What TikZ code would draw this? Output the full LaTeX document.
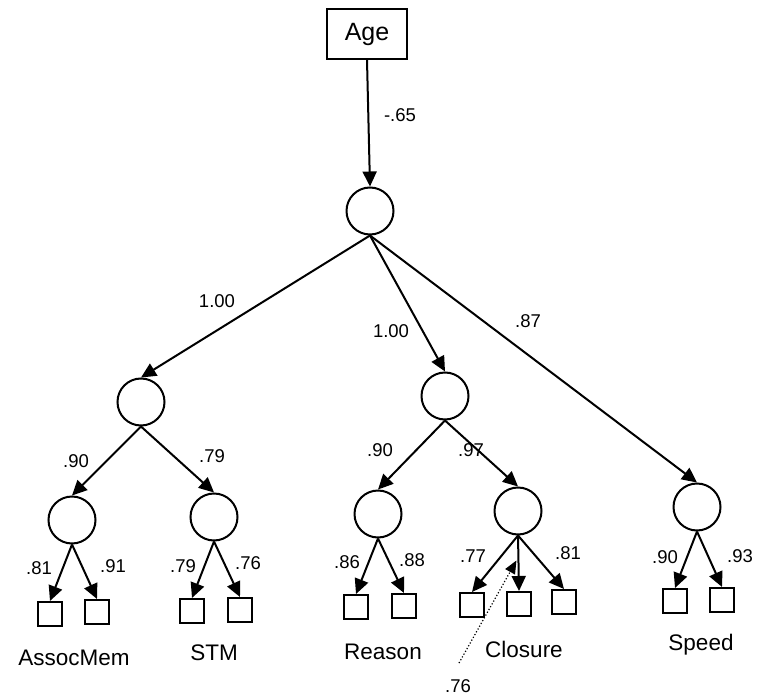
\documentclass[tikz,border=0pt]{standalone}
\usepackage{fontspec}
\setmainfont{Liberation Sans}
\usetikzlibrary{arrows.meta,calc}
\begin{document}
\begin{tikzpicture}[x=1pt,y=-1pt,
  lat/.style={circle,draw,line width=2pt,minimum size=47pt,inner sep=0pt},
  obs/.style={rectangle,draw,line width=2pt,minimum size=24pt,inner sep=0pt},
  path/.style={line width=2pt,-{Triangle[length=15pt,width=14pt]}},
  coef/.style={font=\fontsize{18.5}{20}\selectfont,inner sep=0pt},
  grp/.style={font=\fontsize{22.5}{25}\selectfont,inner sep=0pt}]
\useasboundingbox (0,0) rectangle (765,695);

% exogenous variable
\node[draw,line width=2pt,minimum width=80pt,minimum height=50pt,inner sep=0pt,
      font=\fontsize{25}{28}\selectfont] (age) at (367,34) {Age};

% latent factors
\node[lat] (g)  at (370,211) {};
\node[lat] (f1) at (141,402) {};
\node[lat] (f2) at (445,396) {};
\node[lat] (sp) at (697,507) {};
\node[lat] (am) at (72,520) {};
\node[lat] (st) at (214,517) {};
\node[lat] (re) at (378,514) {};
\node[lat] (cl) at (518,511) {};

% indicators
\node[obs] (am1) at (50,614) {};
\node[obs] (am2) at (97,612) {};
\node[obs] (st1) at (192,611) {};
\node[obs] (st2) at (240,610) {};
\node[obs] (re1) at (356,607) {};
\node[obs] (re2) at (404,606) {};
\node[obs] (cl1) at (472,605) {};
\node[obs] (cl2) at (519,604) {};
\node[obs] (cl3) at (564,602) {};
\node[obs] (sp1) at (675,601) {};
\node[obs] (sp2) at (722,600) {};

% structural paths
\draw[path] (age.south) -- (g.north);
\draw[path] (g.south) -- (f1.north);
\draw[path] (g.south) -- (f2.north);
\draw[path] (g.south) -- (sp.north);
\draw[path] (f1.south) -- (am.north);
\draw[path] (f1.south) -- (st.north);
\draw[path] (f2.south) -- (re.north);
\draw[path] (f2.south) -- (cl.north);

% loadings
\draw[path] (am.south) -- (am1.north);
\draw[path] (am.south) -- (am2.north);
\draw[path] (st.south) -- (st1.north);
\draw[path] (st.south) -- (st2.north);
\draw[path] (re.south) -- (re1.north);
\draw[path] (re.south) -- (re2.north);
\draw[path] (cl.south) -- (cl1.north);
\draw[path] (cl.south) -- (cl2.north);
\draw[path] (cl.south) -- (cl3.north);
\draw[path] (sp.south) -- (sp1.north);
\draw[path] (sp.south) -- (sp2.north);

% pointer to the middle Closure loading
\coordinate (ptr) at ($(cl.south)!0.45!(cl2.north)+(-2,0)$);
\coordinate (ptrfoot) at (459,663);
\draw[line width=1.2pt,dotted,-{Triangle[length=13pt,width=11pt]}] (ptrfoot) -- (ptr);

% coefficient labels
\node[coef] (lage) at (400,115) {-.65};
\node[coef] (lf1)  at (217,301) {1.00};
\node[coef] (lf2)  at (391,331) {1.00};
\node[coef] (lsp)  at (528,321) {.87};
\node[coef] (lam)  at (76,461) {.90};
\node[coef] (lst)  at (212,456) {.79};
\node[coef] (lre)  at (380,450) {.90};
\node[coef] (lcl)  at (471,450) {.97};
\node[coef] (lam1) at (39,568) {.81};
\node[coef] (lam2) at (113,566) {.91};
\node[coef] (lst1) at (183,566) {.79};
\node[coef] (lst2) at (248,563) {.76};
\node[coef] (lre1) at (347,562) {.86};
\node[coef] (lre2) at (412,560) {.88};
\node[coef] (lcl1) at (473,556) {.77};
\node[coef] (lcl3) at (568,553) {.81};
\node[coef] (lcl2) at (458,686) {.76};
\node[coef] (lsp1) at (665,557) {.90};
\node[coef] (lsp2) at (740,556) {.93};

% group names
\node[grp] (nam) at (74,658) {AssocMem};
\node[grp] (nst) at (214,653) {STM};
\node[grp] (nre) at (383,652) {Reason};
\node[grp] (ncl) at (524,649) {Closure};
\node[grp] (nsp) at (701,645) {Speed};
\end{tikzpicture}
\end{document}
